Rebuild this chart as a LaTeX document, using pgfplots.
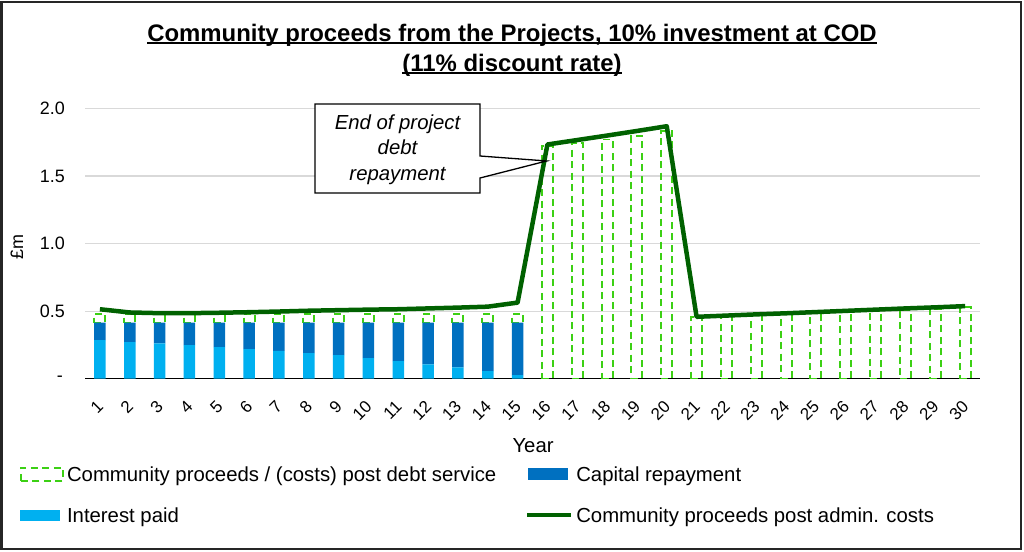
\documentclass[border=0pt]{standalone}
\usepackage{fontspec}
\setmainfont{Liberation Sans}
\usepackage{pgfplots}
\usepackage{pgfplotstable}
\pgfplotsset{compat=1.18}

\definecolor{interestc}{HTML}{00B0F0}
\definecolor{capitalc}{HTML}{0070C0}
\definecolor{proceedsc}{HTML}{3CD014}
\definecolor{adminc}{HTML}{006100}
\definecolor{gridc}{HTML}{D9D9D9}

\newsavebox\ulbox
\newcommand\ul[1]{\sbox\ulbox{#1}\rlap{\rule[-2.6bp]{\wd\ulbox}{1.5bp}}\usebox\ulbox}

\pgfplotstableread{
year interest capital proceeds
1 0.286 0.129 0.065
2 0.271 0.144 0.065
3 0.261 0.154 0.065
4 0.249 0.166 0.065
5 0.234 0.181 0.065
6 0.219 0.196 0.065
7 0.205 0.210 0.065
8 0.190 0.225 0.065
9 0.175 0.240 0.065
10 0.153 0.262 0.065
11 0.131 0.284 0.065
12 0.106 0.309 0.065
13 0.084 0.331 0.065
14 0.057 0.358 0.065
15 0.027 0.388 0.065
16 0 0 1.725
17 0 0 1.745
18 0 0 1.770
19 0 0 1.795
20 0 0 1.830
21 0 0 0.455
22 0 0 0.463
23 0 0 0.471
24 0 0 0.479
25 0 0 0.487
26 0 0 0.495
27 0 0 0.503
28 0 0 0.511
29 0 0 0.519
30 0 0 0.528
}\bardata

\pgfplotstableread{
year value
1 0.514
2 0.490
3 0.485
4 0.485
5 0.488
6 0.492
7 0.497
8 0.503
9 0.507
10 0.511
11 0.514
12 0.520
13 0.526
14 0.533
15 0.563
16 1.733
17 1.766
18 1.799
19 1.833
20 1.868
21 0.458
22 0.467
23 0.476
24 0.484
25 0.493
26 0.502
27 0.511
28 0.520
29 0.528
30 0.537
}\linedata

\begin{document}
\begin{tikzpicture}
\useasboundingbox (0,0) rectangle (1024bp,-552bp);
\fill[white] (0,0) rectangle (1024bp,-552bp);

\begin{axis}[
  at={(85bp,-378.7bp)}, anchor=south west, scale only axis,
  width=895bp, height=270.3bp,
  xmin=0.5, xmax=30.5, ymin=0, ymax=2,
  ybar stacked, bar width=11bp,
  axis x line*=bottom, axis y line*=left,
  x axis line style={-, black, line width=1.3bp},
  y axis line style={draw=none},
  major tick length=0pt,
  xtick={1,2,3,4,5,6,7,8,9,10,11,12,13,14,15,16,17,18,19,20,21,22,23,24,25,26,27,28,29,30},
  xticklabels={1,2,3,4,5,6,7,8,9,10,11,12,13,14,15,16,17,18,19,20,21,22,23,24,25,26,27,28,29,30},
  ytick={0,0.5,1,1.5,2},
  yticklabels={-\kern2bp,0.5,1.0,1.5,2.0},
  ymajorgrids, grid style={gridc, line width=1.2bp},
  yticklabel style={font=\fontsize{18}{20}\selectfont, anchor=east, inner sep=0pt, xshift=-20bp},
  xticklabel style={font=\fontsize{17}{20}\selectfont, inner sep=0pt, yshift=-25.3bp, xshift=0.5bp, rotate=45, anchor=east},
  xlabel={Year}, ylabel={£m},
  xlabel style={at={(axis description cs:0.5006,-0.249)}, anchor=center, font=\fontsize{20.4}{24}\selectfont},
  ylabel style={at={(axis description cs:-0.076,0.487)}, anchor=center, font=\fontsize{18}{20}\selectfont},
]
\addplot[fill=interestc, draw=none, bar width=11.5bp] table[x=year,y=interest]{\bardata};
\addplot[fill=capitalc, draw=none, bar width=11.5bp] table[x=year,y=capital]{\bardata};
\addplot[draw=proceedsc, fill=none, line width=1.9bp, dash pattern=on 7bp off 4.5bp] table[x=year,y=proceeds]{\bardata};
\end{axis}

\begin{axis}[
  at={(85bp,-378.7bp)}, anchor=south west, scale only axis,
  width=895bp, height=270.3bp,
  xmin=0.5, xmax=30.5, ymin=0, ymax=2,
  hide axis,
  legend columns=2, legend cell align=left,
  legend style={at={(axis description cs:-0.0726,-0.3267)}, anchor=north west,
    draw=none, fill=none, inner sep=0pt, outer sep=0pt,
    font=\fontsize{20.4}{24}\selectfont,
    row sep=26.4bp, column sep=0pt,
    nodes={inner sep=0pt, text height=14.6bp, text depth=0pt},
    /tikz/every odd column/.style={column sep=3bp},
    /tikz/every even column/.style={column sep=29bp}},
]
\addplot[adminc, line width=4.5bp, line join=round, forget plot] table[x=year,y=value]{\linedata};
\coordinate (tip) at (axis cs:15.976,1.611);
\addlegendimage{legend image code/.code={\path[draw=none,fill=none] (0,-7bp) rectangle (44bp,7bp); \draw[draw=proceedsc, fill=none, line width=1.7bp, dash pattern=on 7bp off 4.5bp] (0.8bp,-6.5bp) rectangle (43bp,6.5bp);}}
\addlegendentry{Community proceeds / (costs) post debt service}
\addlegendimage{legend image code/.code={\path[draw=none,fill=none] (0,-7bp) rectangle (44bp,7bp); \fill[fill=capitalc, draw=none] (1bp,-6bp) rectangle (41bp,6bp);}}
\addlegendentry{Capital repayment}
\addlegendimage{legend image code/.code={\path[draw=none,fill=none] (0,-7bp) rectangle (44bp,7bp); \fill[fill=interestc, draw=none] (0bp,-5.5bp) rectangle (40bp,5.5bp);}}
\addlegendentry{Interest paid}
\addlegendimage{legend image code/.code={\path[draw=none,fill=none] (0,-7bp) rectangle (44bp,7bp); \draw[draw=adminc, fill=none, line width=4bp] (0,0) -- (44bp,0);}}
\addlegendentry{Community proceeds post admin. costs}
\end{axis}

\draw[black, line width=1.3bp, fill=white, line join=miter] (315bp,-104bp) -- (480bp,-104bp) -- (480bp,-156bp) -- (tip) -- (480bp,-178bp) -- (480bp,-193bp) -- (315bp,-193bp) -- cycle;
\node[align=center, font=\itshape\fontsize{20.4}{25.5}\selectfont] at (397.5bp,-149.5bp) {End of project\\debt\\repayment};

\node[anchor=base, font=\bfseries\fontsize{24}{28}\selectfont] at (512bp,-41bp) {\ul{Community proceeds from the Projects, 10\% investment at COD}};
\node[anchor=base, font=\bfseries\fontsize{24}{28}\selectfont] at (512bp,-71bp) {\ul{(11\% discount rate)}};

\draw[line width=2bp, black!85] (1.5bp,-2bp) rectangle (1021bp,-548.5bp);
\end{tikzpicture}
\end{document}
